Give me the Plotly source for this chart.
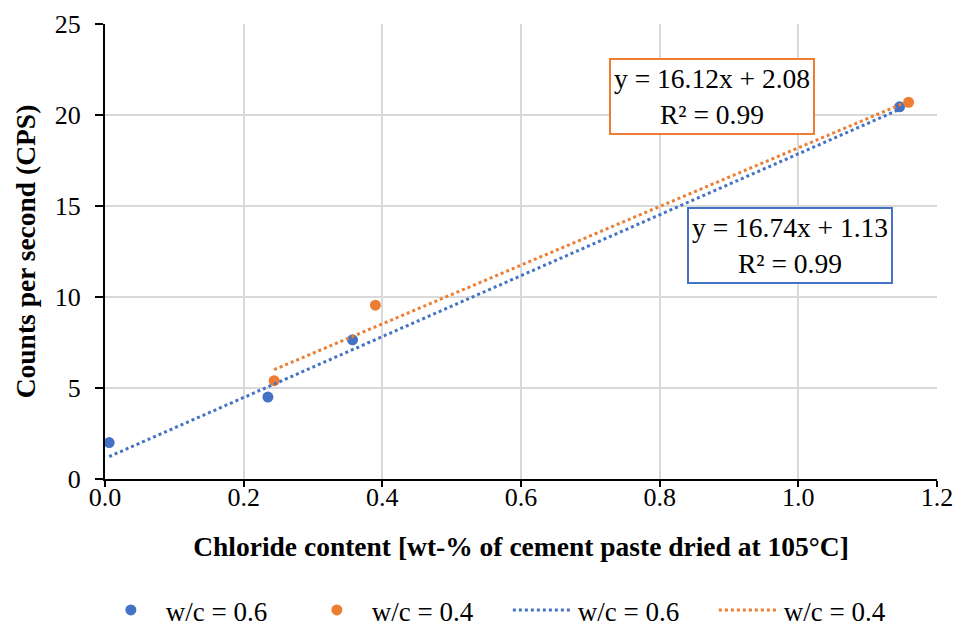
import plotly.graph_objects as go

# Data
x_wc06 = [0.006, 0.235, 0.357, 1.146]
y_wc06 = [2.0, 4.5, 7.65, 20.45]
x_wc04 = [0.244, 0.390, 1.159]
y_wc04 = [5.4, 9.55, 20.7]

# Linear trendline endpoints (span of each data set)
trend_x_wc06 = [0.006, 1.146]
trend_y_wc06 = [1.23, 20.31]
trend_x_wc04 = [0.244, 1.159]
trend_y_wc04 = [6.01, 20.76]

eq_wc06 = "y = 16.74x + 1.13<br>R² = 0.99"
eq_wc04 = "y = 16.12x + 2.08<br>R² = 0.99"

x_ticks = [0.0, 0.2, 0.4, 0.6, 0.8, 1.0, 1.2]
x_tick_labels = ["0.0", "0.2", "0.4", "0.6", "0.8", "1.0", "1.2"]
y_ticks = [0, 5, 10, 15, 20, 25]

BLUE = "#4472C4"
ORANGE = "#ED7D31"
FONT = "Liberation Serif"

fig = go.Figure()
fig.add_trace(go.Scatter(x=x_wc06, y=y_wc06, mode="markers", name="w/c = 0.6",
                         marker=dict(color=BLUE, size=11)))
fig.add_trace(go.Scatter(x=x_wc04, y=y_wc04, mode="markers", name="w/c = 0.4",
                         marker=dict(color=ORANGE, size=11)))
fig.add_trace(go.Scatter(x=trend_x_wc06, y=trend_y_wc06, mode="lines", name="w/c = 0.6",
                         line=dict(color=BLUE, width=3, dash="dot")))
fig.add_trace(go.Scatter(x=trend_x_wc04, y=trend_y_wc04, mode="lines", name="w/c = 0.4",
                         line=dict(color=ORANGE, width=3, dash="dot")))

fig.add_annotation(x=0.876, y=21.04, xref="x", yref="y", text=eq_wc04, showarrow=False,
                   font=dict(family=FONT, size=27.5, color="black"),
                   bordercolor=ORANGE, borderwidth=2, borderpad=3, bgcolor="white", align="center")
fig.add_annotation(x=0.988, y=12.83, xref="x", yref="y", text=eq_wc06, showarrow=False,
                   font=dict(family=FONT, size=27.5, color="black"),
                   bordercolor=BLUE, borderwidth=2, borderpad=3, bgcolor="white", align="center")

fig.update_layout(
    width=955, height=628,
    margin=dict(l=105, r=18, t=24, b=149, autoexpand=False),
    paper_bgcolor="white", plot_bgcolor="white",
    font=dict(family=FONT, size=27, color="black"),
    showlegend=True,
    legend=dict(orientation="h", x=-0.011, xanchor="left", y=-0.235, yanchor="top",
                font=dict(family=FONT, size=27, color="black"),
                itemwidth=60, entrywidth=131, entrywidthmode="pixels",
                traceorder="normal"),
)
fig.update_xaxes(range=[0, 1.2], tickvals=x_ticks, ticktext=x_tick_labels,
                 showgrid=True, gridcolor="#d9d9d9", gridwidth=1.5,
                 showline=True, linecolor="black", linewidth=2,
                 ticks="outside", ticklen=6, tickcolor="black", tickwidth=1.5,
                 ticklabelstandoff=-12,
                 zeroline=False, automargin=False, tickfont=dict(family=FONT, size=26),
                 title=dict(text="<b>Chloride content [wt-% of cement paste dried at 105°C]</b>",
                            font=dict(family=FONT, size=27.5), standoff=26))
fig.update_yaxes(range=[0, 25], tickvals=y_ticks,
                 showgrid=True, gridcolor="#d9d9d9", gridwidth=1.5,
                 showline=True, linecolor="black", linewidth=2,
                 ticks="outside", ticklen=8, tickcolor="black", tickwidth=1.5,
                 ticklabelstandoff=9,
                 zeroline=False, automargin=False, tickfont=dict(family=FONT, size=26),
                 title=dict(text="<b>Counts per second (CPS)</b>",
                            font=dict(family=FONT, size=27.5), standoff=11))

fig.write_html("out.html", config={"displayModeBar": False},
               post_script="document.body.style.margin='0';document.body.style.overflow='hidden';")
